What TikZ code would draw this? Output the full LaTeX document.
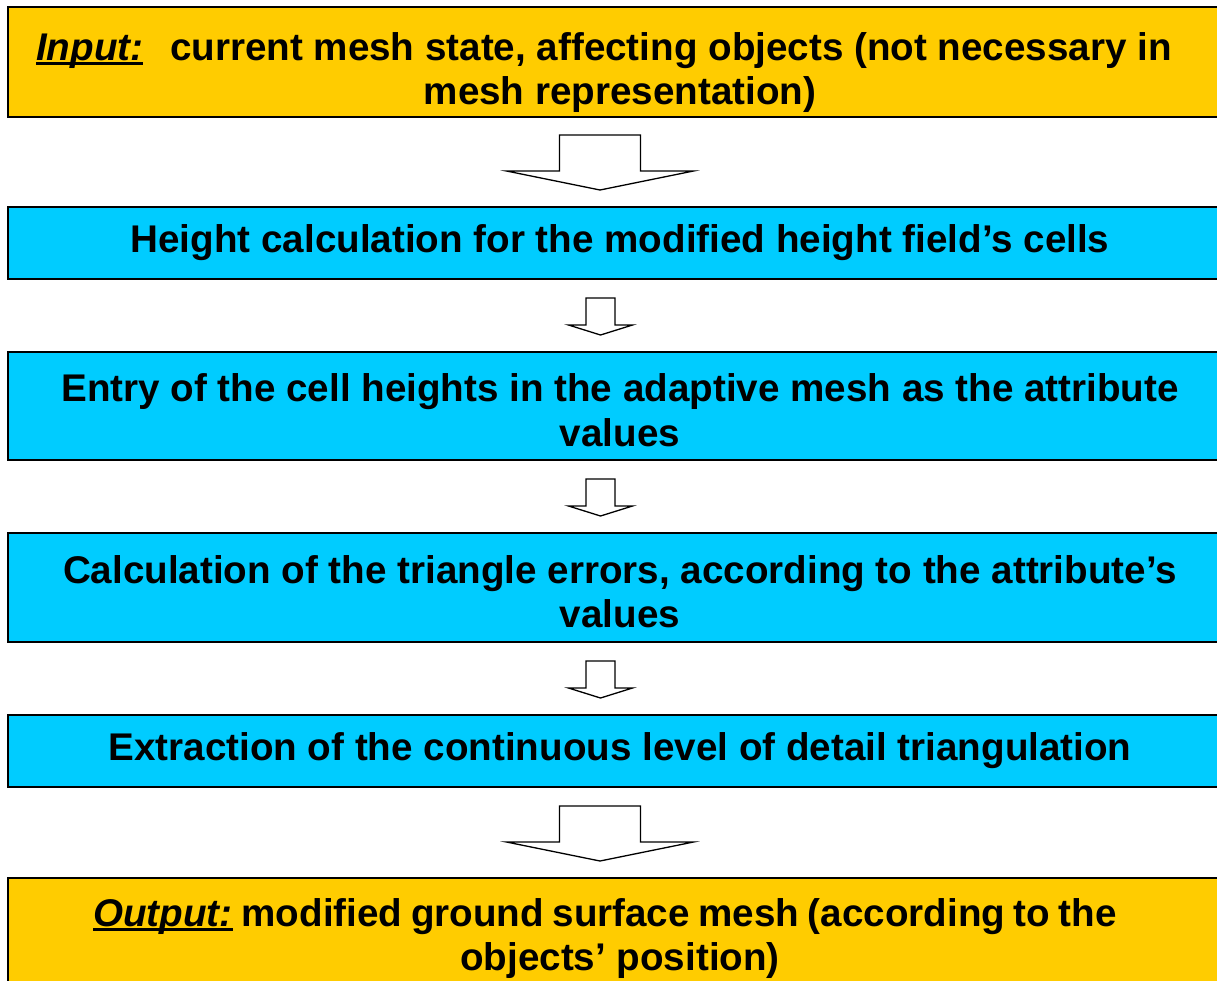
\documentclass[tikz,border=0pt]{standalone}
\usepackage{fontspec}
\setmainfont{Liberation Sans}
\usetikzlibrary{calc}
\definecolor{yel}{RGB}{255,204,0}
\definecolor{cya}{RGB}{0,204,255}
\newcommand\ulx[1]{\setbox0\hbox{#1}\rlap{\rule[-5pt]{\wd0}{3pt}}\box0\relax}
\tikzset{
  box/.style={draw=black, line width=2pt, minimum width=1224pt, inner sep=0pt,
    align=center, anchor=north west, font=\fontsize{38.6}{44.5}\selectfont\bfseries},
  arr/.style={draw=black, fill=white, line width=1.3pt, line join=miter},
  bigarrow/.pic={\draw[arr] (-40.5,0) -- (40.5,0) -- (40.5,36) -- (93.5,36) -- (0,55) -- (-93.5,36) -- (-40.5,36) -- cycle;},
  smallarrow/.pic={\draw[arr] (-14.5,0) -- (14.5,0) -- (14.5,27) -- (32,27) -- (0,37) -- (-32,27) -- (-14.5,27) -- cycle;}
}
\begin{document}
\begin{tikzpicture}[x=1pt,y=-1pt]
\useasboundingbox (0,0) rectangle (1217,980);
\clip (0,0) rectangle (1217,980);
\node[box, fill=yel, minimum height=110pt] (b1) at (7,6)
  {\rule{0pt}{49pt}\ulx{\itshape Input:}\hspace{16pt} current mesh state, affecting objects (not necessary in\kern32pt\\mesh representation)};
\node[box, fill=cya, minimum height=72pt] (b2) at (7,206)
  {Height calculation for the modified height field’s cells};
\node[box, fill=cya, minimum height=108pt] (b3) at (7,351)
  {\rule{0pt}{36pt}Entry of the cell heights in the adaptive mesh as the attribute\\values};
\node[box, fill=cya, minimum height=109pt] (b4) at (7,532)
  {\rule{0pt}{36pt}Calculation of the triangle errors, according to the attribute’s\\values};
\node[box, fill=cya, minimum height=72pt] (b5) at (7,714)
  {Extraction of the continuous level of detail triangulation};
\node[box, fill=yel, minimum height=113pt] (b6) at (7,877)
  {\rule{0pt}{36pt}\ulx{\itshape Output:}\kern9pt{\spaceskip=8.6pt modified ground surface mesh (according to the}\kern30pt\\objects’ position)};
\pic at ($(b1.south)+(-20,17)$) {bigarrow};
\pic at ($(b2.south)+(-19.5,18)$) {smallarrow};
\pic at ($(b3.south)+(-19.5,18)$) {smallarrow};
\pic at ($(b4.south)+(-19.5,18)$) {smallarrow};
\pic at ($(b5.south)+(-20,18)$) {bigarrow};
\end{tikzpicture}
\end{document}
